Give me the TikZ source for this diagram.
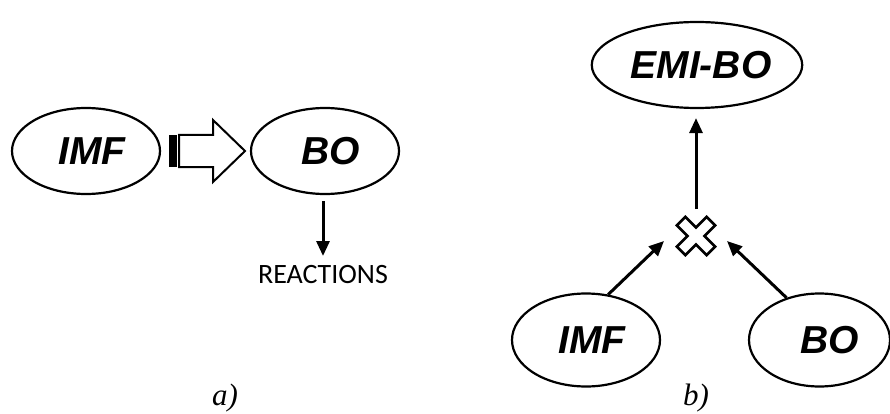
\documentclass[tikz,border=0pt]{standalone}
\usepackage{fontspec}
\setmainfont{Liberation Serif}
\newfontfamily\arialfont{Liberation Sans}
\newfontfamily\calfont{Carlito}
\usetikzlibrary{arrows.meta,shapes.geometric,calc}

\begin{document}
\begin{tikzpicture}[x=1pt,y=-1pt,
  oval/.style={ellipse, draw, line width=2.2pt, inner sep=0pt,
    minimum width=148pt, minimum height=86pt,
    font=\arialfont\bfseries\itshape\fontsize{39}{42}\selectfont},
  conn/.style={line width=3pt, -{Triangle[length=15pt,width=13pt]}},
  caption/.style={font=\itshape\fontsize{31}{34}\selectfont, inner sep=0pt},
  blockarrow/.style={draw, line width=2pt, fill=white, line join=miter}]

\useasboundingbox (0,0) rectangle (890,414);

% ---- part a) ----
\node[oval] (imfA) at (86,151) {\hspace*{12pt}IMF};
\node[oval] (boA) at (325,151) {\hspace*{12pt}BO};

% striped block arrow between the two ovals
\fill (169,135) rectangle (176.5,167);
\draw[blockarrow] (179,135) -- (213,135) -- (213,120) -- (245,151)
  -- (213,182) -- (213,167) -- (179,167) -- cycle;

\node[font=\calfont\fontsize{28}{32}\selectfont, inner sep=0pt] (react) at (323,275) {REACTIONS};
\coordinate (reactTop) at (323,256);
\draw[conn] ([yshift=-6pt]boA.south -| reactTop) -- (reactTop);

\node[caption] (capA) at (225,398) {a)};

% ---- part b) ----
\node[oval, minimum width=150pt] (emi) at (697,65) {\hspace*{8pt}EMI-BO};
\node[oval, minimum height=93pt] (imfB) at (586,340) {\hspace*{12pt}IMF};
\node[oval, minimum width=141pt, minimum height=93pt] (boB) at (819.5,340) {\hspace*{20pt}BO};

% combining cross
\coordinate (mix) at (696,236);
\draw[line width=2.6pt, line join=miter, rotate around={45:(mix)}]
  ($(mix)+(-6,-6)$) -- ($(mix)+(-6,-21)$) -- ($(mix)+(6,-21)$) -- ($(mix)+(6,-6)$)
  -- ($(mix)+(21,-6)$) -- ($(mix)+(21,6)$) -- ($(mix)+(6,6)$) -- ($(mix)+(6,21)$)
  -- ($(mix)+(-6,21)$) -- ($(mix)+(-6,6)$) -- ($(mix)+(-21,6)$) -- ($(mix)+(-21,-6)$) -- cycle;

\coordinate (mixL) at (664,241);
\coordinate (mixR) at (727,241);
\coordinate (mixT) at (696,209);

\draw[conn] (imfB.64) -- (mixL);
\draw[conn] (boB.128) -- (mixR);
\draw[conn] (mixT) -- ([yshift=-9pt]emi.south -| mixT);

\node[caption] (capB) at (696,398) {b)};
\end{tikzpicture}
\end{document}
